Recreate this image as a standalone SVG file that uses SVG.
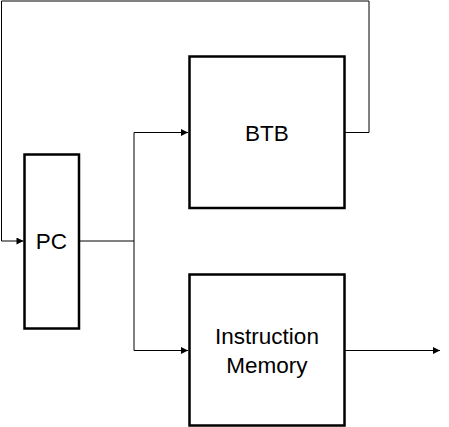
<svg xmlns="http://www.w3.org/2000/svg" width="449" height="427" viewBox="0 0 449 427">
<style>
.box{fill:#fff;stroke:#000;stroke-width:2.5}
.lbl{font-family:"Liberation Sans",Arial,sans-serif;font-size:22.5px;fill:#000;text-anchor:middle}
.wire{fill:none;stroke:#000;stroke-width:1}
</style>
<defs>
<marker id="arr" viewBox="0 0 10 10" refX="10" refY="5" markerWidth="9" markerHeight="7" markerUnits="userSpaceOnUse" orient="auto">
<path d="M0,0 L10,5 L0,10 Z" fill="#000"/>
</marker>
</defs>
<rect width="449" height="427" fill="#fff"/>
<g id="connectors">
<path class="wire" d="M345,132.5 H369 V1 H1.5 V241 H23.5" marker-end="url(#arr)"/>
<path class="wire" d="M79,241 H134 V132.5 H188" marker-end="url(#arr)"/>
<path class="wire" d="M134,241 V350.5 H188" marker-end="url(#arr)"/>
<path class="wire" d="M345,350.5 H440" marker-end="url(#arr)"/>
</g>
<g id="btb">
<rect class="box" x="189.5" y="56.5" width="155" height="151.5"/>
<text class="lbl" x="267" y="141">BTB</text>
</g>
<g id="pc">
<rect class="box" x="24.5" y="154.5" width="54.5" height="174"/>
<text class="lbl" x="51.5" y="249">PC</text>
</g>
<g id="imem">
<rect class="box" x="189.5" y="274.5" width="155" height="151"/>
<text class="lbl" x="267" y="344">Instruction</text>
<text class="lbl" x="267" y="372.5">Memory</text>
</g>
</svg>
